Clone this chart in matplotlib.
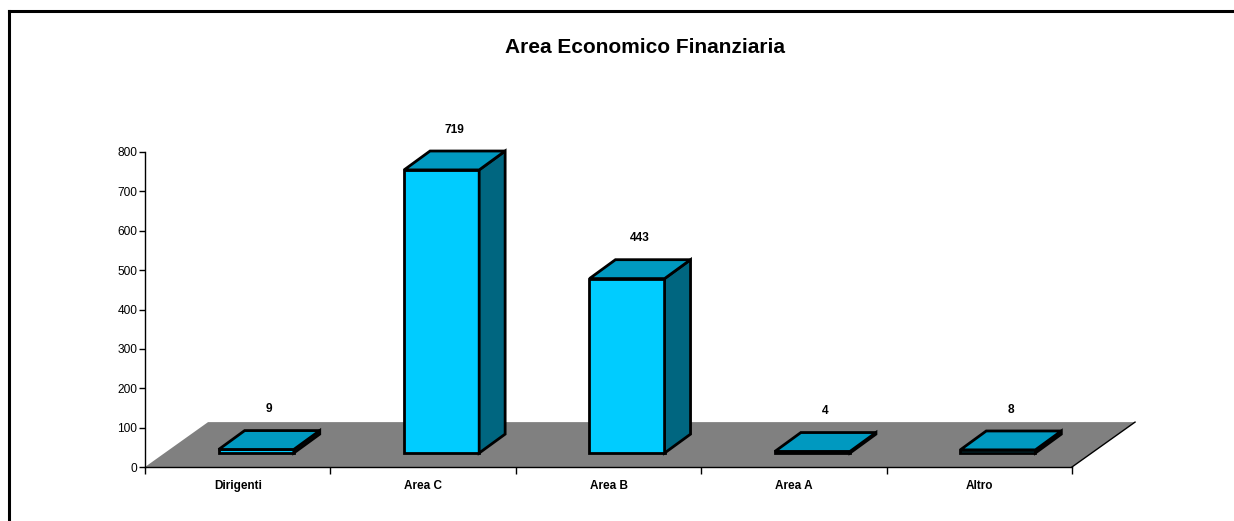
import matplotlib
matplotlib.use("Agg")
import matplotlib.pyplot as plt
from matplotlib.patches import Polygon
from matplotlib.lines import Line2D

plt.rcParams['font.family'] = ['Liberation Sans', 'DejaVu Sans']

# dati
categorie = ['Dirigenti', 'Area C', 'Area B', 'Area A', 'Altro']
valori = [9, 719, 443, 4, 8]
titolo = 'Area Economico Finanziaria'

# geometria 3d (unita' dati: categorie su x, valori su y)
floor_dx, floor_dy = 0.34, 114
gap_dx, gap_dy = 0.106, 35.5
bar_dx, bar_dy = 0.14, 48
bar_w = 0.405

c_front = '#00CCFF'
c_top = '#0099C0'
c_side = '#006680'
c_floor = '#808080'

W, H = 1234, 521
fig = plt.figure(figsize=(W / 100, H / 100), dpi=100)
fig.patch.set_facecolor('white')

# cornice esterna (solo bordo sinistro e superiore)
fig.add_artist(Line2D([9 / W, 9 / W], [0, 1 - 11 / H], color='black', lw=2.2,
                      transform=fig.transFigure, solid_capstyle='projecting'))
fig.add_artist(Line2D([9 / W, 1], [1 - 11 / H, 1 - 11 / H], color='black', lw=2.2,
                      transform=fig.transFigure, solid_capstyle='projecting'))

x0, x1 = 145, 1072
y0, y1 = 467, 152
ax = fig.add_axes([x0 / W, 1 - y0 / H, (x1 - x0) / W, (y0 - y1) / H])
ax.set_xlim(0, len(categorie))
ax.set_ylim(0, 800)
ax.patch.set_visible(False)
for s in ['top', 'right']:
    ax.spines[s].set_visible(False)
ax.spines['left'].set_linewidth(1)
ax.spines['bottom'].set_linewidth(1)

# pavimento
n = len(categorie)
floor = Polygon([(0, 0), (n, 0), (n + floor_dx, floor_dy), (floor_dx, floor_dy)],
                closed=True, facecolor=c_floor, edgecolor='none', clip_on=False, zorder=1)
ax.add_patch(floor)
ax.plot([n, n + floor_dx], [0, floor_dy], color='black', lw=1, clip_on=False, zorder=1.5)

# barre
for i, v in enumerate(valori):
    xl = i + 0.5 + 0.1 - bar_w / 2
    xr = xl + bar_w
    yb = gap_dy
    yt = gap_dy + v
    front = [(xl, yb), (xr, yb), (xr, yt), (xl, yt)]
    top = [(xl, yt), (xr, yt), (xr + bar_dx, yt + bar_dy), (xl + bar_dx, yt + bar_dy)]
    side = [(xr, yb), (xr + bar_dx, yb + bar_dy), (xr + bar_dx, yt + bar_dy), (xr, yt)]
    for pts, col in [(front, c_front), (side, c_side), (top, c_top)]:
        ax.add_patch(Polygon(pts, closed=True, facecolor=col, edgecolor='black',
                             lw=2, joinstyle='miter', clip_on=False, zorder=3))
    ax.text((xl + xr) / 2 + bar_dx / 2, v + 138, str(v), ha='center', va='center',
            fontsize=8.6, fontweight='bold', zorder=4)

# assi
ax.set_yticks(range(0, 801, 100))
ax.tick_params(axis='y', direction='out', length=4, width=1, pad=1.5, labelsize=8.6)
ax.set_xticks(range(0, n + 1))
ax.set_xticklabels([])
ax.set_xticks([i + 0.5 for i in range(n)], minor=True)
ax.set_xticklabels(categorie, minor=True, fontsize=8.5, fontweight='bold')
ax.tick_params(axis='x', which='major', direction='out', length=5, width=1)
ax.tick_params(axis='x', which='minor', length=0, pad=9.5)

fig.text(645 / W, 1 - 47 / H, titolo, ha='center', va='center',
         fontsize=15, fontweight='bold')

fig.savefig('out.png', dpi=100, facecolor='white')
